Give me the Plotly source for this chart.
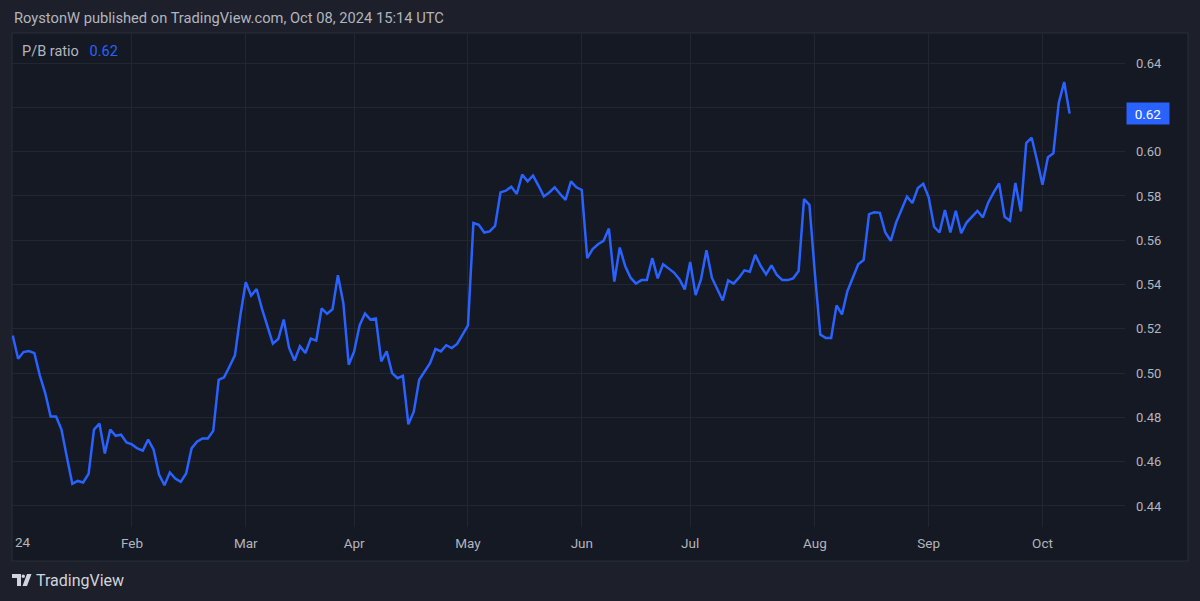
import pandas as pd
import plotly.graph_objects as go

# ---------------- data ----------------
UK_HOLIDAYS = ["2024-01-01", "2024-03-29", "2024-04-01", "2024-05-06", "2024-05-27", "2024-08-26"]
TRADING_DAYS = [d.strftime("%Y-%m-%d") for d in pd.bdate_range("2024-01-02", "2024-10-08")
                if d.strftime("%Y-%m-%d") not in UK_HOLIDAYS]

PB_RATIO = [
    0.517, 0.5065, 0.5095, 0.510, 0.509, 0.499, 0.491, 0.4804, 0.4804, 0.4745,
    0.462, 0.450, 0.4513, 0.4506, 0.4545, 0.4745, 0.4772, 0.4637, 0.4745, 0.4717,
    0.4722, 0.4687, 0.4678, 0.466, 0.465, 0.470, 0.4654, 0.4542, 0.4494, 0.4551,
    0.4524, 0.4509, 0.4547, 0.466, 0.469, 0.4705, 0.4705, 0.4739, 0.497, 0.4981,
    0.503, 0.508, 0.526, 0.541, 0.535, 0.538, 0.529, 0.521, 0.5133, 0.5154,
    0.5242, 0.5114, 0.5057, 0.5121, 0.5091, 0.5156, 0.5147, 0.5292, 0.5268, 0.5288,
    0.5442, 0.5317, 0.5038, 0.5098, 0.5216, 0.5269, 0.5242, 0.5247, 0.5053, 0.5098,
    0.500, 0.4977, 0.4988, 0.4769, 0.4826, 0.497, 0.5005, 0.5045, 0.5109, 0.5098,
    0.5126, 0.5113, 0.5132, 0.5177, 0.5216, 0.5678, 0.567, 0.5635, 0.564, 0.5665,
    0.5816, 0.5824, 0.5842, 0.5809, 0.5897, 0.5866, 0.5892, 0.5847, 0.5798, 0.5816,
    0.5839, 0.5809, 0.5782, 0.5866, 0.5839, 0.5827, 0.5519, 0.556, 0.5582, 0.5597,
    0.5653, 0.5413, 0.5567, 0.5484, 0.5431, 0.5404, 0.542, 0.542, 0.5519, 0.5428,
    0.5492, 0.5473, 0.5454, 0.5424, 0.5378, 0.5502, 0.5352, 0.5424, 0.5555, 0.5431,
    0.5378, 0.5328, 0.5419, 0.5404, 0.5431, 0.5464, 0.5458, 0.5534, 0.5484, 0.5446,
    0.5487, 0.5443, 0.542, 0.542, 0.5428, 0.5461, 0.5786, 0.576, 0.545, 0.5174,
    0.5159, 0.5159, 0.5306, 0.5265, 0.537, 0.5431, 0.5492, 0.5511, 0.5718, 0.5726,
    0.5724, 0.5635, 0.5597, 0.568, 0.5741, 0.5797, 0.5768, 0.5836, 0.5855, 0.5794,
    0.5661, 0.5635, 0.5737, 0.5635, 0.5733, 0.5632, 0.568, 0.5706, 0.5733, 0.5703,
    0.5771, 0.5816, 0.5857, 0.5706, 0.5688, 0.5859, 0.573, 0.6039, 0.6063, 0.596,
    0.5851, 0.5975, 0.5993, 0.622, 0.6315, 0.6172,
]

MONTH_DATES = ["2024-01-02", "2024-02-01", "2024-03-01", "2024-04-02", "2024-05-01",
               "2024-06-03", "2024-07-01", "2024-08-01", "2024-09-02", "2024-10-01"]
MONTH_LABELS = ["24", "Feb", "Mar", "Apr", "May", "Jun", "Jul", "Aug", "Sep", "Oct"]
Y_TICKS = [0.44, 0.46, 0.48, 0.50, 0.52, 0.54, 0.56, 0.58, 0.60, 0.62, 0.64]

SERIES_NAME = "P/B ratio"
TITLE = "RoystonW published on TradingView.com, Oct 08, 2024 15:14 UTC"

# ---------------- style ----------------
W, H = 1200, 601
L, R, T, B = 12, 1125, 33, 527          # plot area in pixels
OUTER_BG = "#1d202b"
PANEL_BG = "#151924"
GRID = "#222632"
TEXT = "#b2b5be"
BLUE = "#2962ff"
FONT = "Roboto"


def px(x):
    return (x - L) / (R - L)


def py(y):
    return (B - y) / (B - T)


last_val = PB_RATIO[-1]
# the last-value tag covers the 0.62 tick label, as on the reference
tick_text = ["" if abs(v - round(last_val, 2)) < 1e-9 else f"{v:.2f}" for v in Y_TICKS]

fig = go.Figure()
fig.add_trace(go.Scatter(
    x=TRADING_DAYS, y=PB_RATIO, mode="lines",
    line=dict(color=BLUE, width=2.5), name=SERIES_NAME, hoverinfo="skip",
))

bar_px = 5.42
n_right = (R - L) / bar_px

fig.update_layout(
    width=W, height=H,
    margin=dict(l=L, r=W - R, t=T, b=H - B),
    paper_bgcolor=OUTER_BG,
    plot_bgcolor="rgba(0,0,0,0)",
    showlegend=False,
    font=dict(family=FONT, color=TEXT, size=13),
    xaxis=dict(
        type="category", categoryorder="array", categoryarray=TRADING_DAYS,
        range=[-0.13, n_right - 0.13],
        tickvals=MONTH_DATES[1:], ticktext=MONTH_LABELS[1:],
        showgrid=True, gridcolor=GRID, gridwidth=1,
        ticks="", showline=False, zeroline=False,
        tickfont=dict(size=13.5, color=TEXT), ticklabelstandoff=6,
    ),
    yaxis=dict(
        side="right", range=[0.4305, 0.6536],
        tickvals=Y_TICKS, ticktext=tick_text,
        showgrid=True, gridcolor=GRID, gridwidth=1,
        ticks="", showline=False, zeroline=False,
        tickfont=dict(size=13, color=TEXT), ticklabelstandoff=10,
    ),
)

# chart panel
fig.add_shape(type="rect", xref="paper", yref="paper",
              x0=px(12), x1=px(1188), y0=py(561), y1=py(33),
              fillcolor=PANEL_BG, line=dict(color="#2a2e39", width=1), layer="below")

# "24" year label at the first bar
fig.add_annotation(x=MONTH_DATES[0], xref="x", y=py(542), yref="paper",
                   text=MONTH_LABELS[0], showarrow=False, xanchor="left", xshift=0,
                   yanchor="middle", font=dict(size=13.5, color=TEXT))

# title
fig.add_annotation(x=px(12), y=py(18), xref="paper", yref="paper", text=TITLE,
                   showarrow=False, xanchor="left", yanchor="middle",
                   font=dict(size=14.7, color=TEXT))

# legend
fig.add_annotation(x=px(20), y=py(52), xref="paper", yref="paper",
                   text=(f"{SERIES_NAME}&nbsp;&nbsp;&nbsp;"
                         f"<span style='color:{BLUE}'>{last_val:.2f}</span>"),
                   showarrow=False, xanchor="left", yanchor="middle",
                   font=dict(size=14.5, color=TEXT))

# last value price tag
fig.add_annotation(x=1.0, xref="paper", y=last_val, yref="y",
                   text=f"{last_val:.2f}", showarrow=False, xanchor="left", xshift=1,
                   yanchor="middle", bgcolor=BLUE, width=38, height=17, borderpad=2,
                   font=dict(size=13.5, color="#ffffff"))

# TradingView logo (decoration)
LOGO = "#d1d4dc"
fig.add_shape(type="path", xref="paper", yref="paper",
              path=(f"M {px(12)} {py(574)} L {px(21)} {py(574)} L {px(21)} {py(586)} "
                    f"L {px(17)} {py(586)} L {px(17)} {py(578)} L {px(12)} {py(578)} Z"),
              fillcolor=LOGO, line=dict(width=0))
fig.add_shape(type="circle", xref="paper", yref="paper",
              x0=px(21.5), x1=px(25), y0=py(578), y1=py(574.5),
              fillcolor=LOGO, line=dict(width=0))
fig.add_shape(type="path", xref="paper", yref="paper",
              path=(f"M {px(27)} {py(574)} L {px(31.5)} {py(574)} L {px(27)} {py(586)} "
                    f"L {px(22.5)} {py(586)} Z"),
              fillcolor=LOGO, line=dict(width=0))
fig.add_annotation(x=px(34), y=py(580), xref="paper", yref="paper", text="TradingView",
                   showarrow=False, xanchor="left", yanchor="middle",
                   font=dict(size=16, color=LOGO))

fig.write_html("out.html", config={"displayModeBar": False},
               post_script="document.body.style.margin='0px';")
